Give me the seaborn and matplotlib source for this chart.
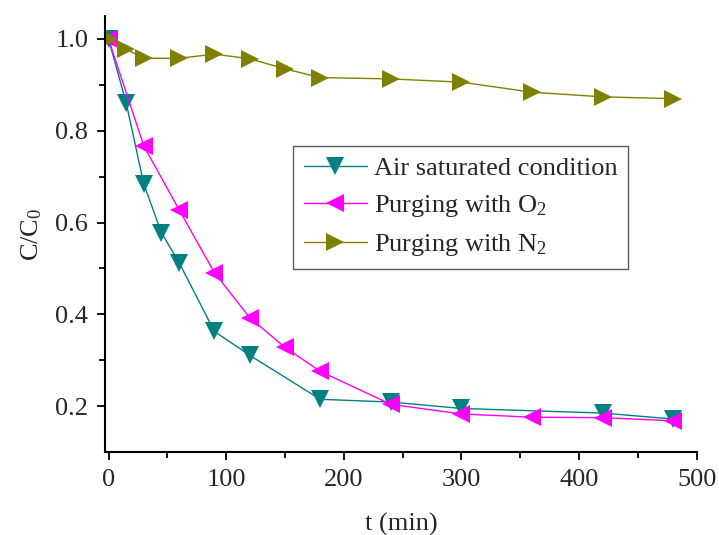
import seaborn as sns
import matplotlib.pyplot as plt
import pandas as pd

# data
t_air = [0, 15, 30, 45, 60, 90, 120, 180, 240, 300, 420, 480]
c_air = [1.0, 0.861, 0.684, 0.578, 0.513, 0.363, 0.311, 0.215, 0.209, 0.195, 0.185, 0.172]

t_o2 = [0, 30, 60, 90, 120, 150, 180, 240, 300, 360, 420, 480]
c_o2 = [1.0, 0.767, 0.628, 0.491, 0.393, 0.328, 0.276, 0.204, 0.183, 0.176, 0.175, 0.168]

t_n2 = [0, 15, 30, 60, 90, 120, 150, 180, 240, 300, 360, 420, 480]
c_n2 = [1.0, 0.978, 0.958, 0.958, 0.967, 0.957, 0.935, 0.916, 0.913, 0.906, 0.884, 0.874, 0.870]

labels = ["Air saturated condition", "Purging with O$_2$", "Purging with N$_2$"]
colors = ["#008080", "#FF00FF", "#808000"]
markers = ["v", "<", ">"]

sns.set_style("ticks")
plt.rcParams["font.family"] = ["Liberation Serif", "DejaVu Serif"]
plt.rcParams["mathtext.fontset"] = "custom"
plt.rcParams["mathtext.rm"] = "Liberation Serif"
plt.rcParams["mathtext.it"] = "Liberation Serif:italic"

fig = plt.figure(figsize=(7.19, 5.35), dpi=100)
ax = fig.add_axes([0.146, 0.155, 0.823, 0.815])

series = [(t_air, c_air), (t_o2, c_o2), (t_n2, c_n2)]
for (t, c), lab, col, mk in zip(series, labels, colors, markers):
    df = pd.DataFrame({"t": t, "c": c})
    sns.lineplot(data=df, x="t", y="c", ax=ax, color=col, marker=mk,
                 markersize=12.5, markeredgewidth=0, linewidth=1.0, label=lab)

ax.set_xlim(-3, 500)
ax.set_ylim(0.1, 1.05)
ax.set_xticks([0, 100, 200, 300, 400, 500])
ax.set_xticks(range(50, 500, 100), minor=True)
ax.set_yticks([0.2, 0.4, 0.6, 0.8, 1.0])
ax.set_yticks([0.3, 0.5, 0.7, 0.9], minor=True)
ax.set_yticklabels(["0.2", "0.4", "0.6", "0.8", "1.0"])

ax.set_xlabel("t (min)", fontsize=19, labelpad=16)
ax.set_ylabel("C/C$_0$", fontsize=19, labelpad=8)
ax.tick_params(axis="both", which="major", labelsize=19, direction="out",
               length=6, width=1.3, color="black", pad=6)
ax.tick_params(axis="both", which="minor", direction="out", length=4,
               width=1.3, color="black")

sns.despine(ax=ax)
for sp in ["left", "bottom"]:
    ax.spines[sp].set_linewidth(1.5)
    ax.spines[sp].set_color("black")

leg = ax.legend(loc="upper left", bbox_to_anchor=(0.318, 0.702), borderaxespad=0,
                fontsize=19, frameon=True, fancybox=False, handlelength=2.4,
                labelspacing=0.5, borderpad=0.4, handletextpad=0.25)
leg.get_frame().set_edgecolor("#333333")
leg.get_frame().set_linewidth(1.0)

fig.savefig("out.png", dpi=100)
